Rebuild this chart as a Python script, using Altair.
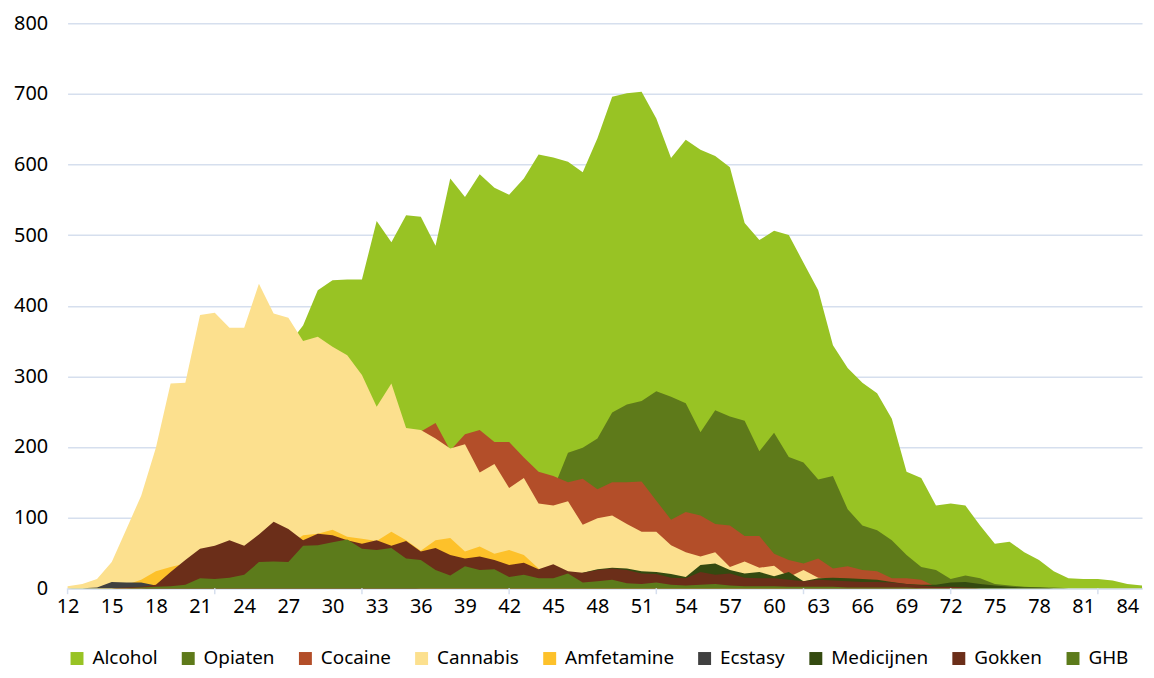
import altair as alt
import pandas as pd

ages = list(range(12, 86))

series = ["Alcohol", "Opiaten", "Cocaine", "Cannabis", "Amfetamine",
          "Ecstasy", "Medicijnen", "Gokken", "GHB"]
colors = ["#98C324", "#5E7A1A", "#B34E29", "#FCE08E", "#FDC12A",
          "#404040", "#344A10", "#6B2E19", "#5C7B1B"]

alcohol = [0, 1, 2, 4, 8, 15, 30, 50, 80, 110, 150, 190, 230, 270, 310, 345,
           372, 422, 436, 437, 437, 520, 490, 528, 526, 485, 580, 554, 586, 567,
           557, 580, 614, 610, 604, 589, 637, 696, 701, 703, 665, 609, 635, 621,
           612, 596, 517, 493, 506, 500, 461, 422, 344, 312, 291, 276, 240, 165,
           156, 117, 120, 117, 89, 63, 66, 51, 40, 24, 14, 13, 13, 11, 6, 4]
opiaten = [0, 0, 0, 0, 1, 2, 3, 5, 8, 12, 15, 20, 25, 30, 35, 40,
           45, 50, 55, 60, 65, 70, 75, 80, 85, 90, 95, 100, 110, 115,
           120, 130, 135, 140, 192, 199, 212, 249, 260, 265, 279, 271, 262, 221,
           252, 243, 237, 194, 220, 186, 178, 154, 159, 112, 89, 82, 68, 47,
           30, 26, 13, 18, 14, 6, 4, 2, 1, 1, 0, 0, 0, 0, 0, 0]
cocaine = [0, 0, 0, 0, 2, 5, 10, 15, 25, 35, 45, 55, 65, 75, 85, 95,
           105, 115, 125, 140, 155, 170, 185, 200, 222, 234, 195, 218, 224, 207,
           207, 185, 165, 159, 150, 155, 140, 150, 150, 151, 124, 97, 108, 103,
           91, 89, 74, 74, 49, 40, 35, 42, 28, 31, 26, 24, 14, 14,
           12, 2, 0, 0, 0, 0, 0, 0, 0, 0, 0, 0, 0, 0, 0, 0]
cannabis = [3, 6, 13, 37, 84, 131, 199, 290, 291, 387, 390, 369, 369, 431, 389, 383,
            350, 356, 342, 330, 302, 257, 290, 227, 224, 212, 198, 204, 164, 176,
            142, 156, 120, 117, 123, 90, 99, 103, 91, 80, 80, 61, 51, 45,
            51, 30, 38, 29, 32, 16, 26, 15, 13, 12, 10, 8, 6, 4,
            3, 2, 1, 1, 0, 0, 0, 0, 0, 0, 0, 0, 0, 0, 0, 0]
amfetamine = [0, 0, 0, 2, 5, 12, 24, 30, 35, 40, 42, 45, 48, 50, 55, 60,
              75, 77, 83, 73, 70, 67, 80, 68, 53, 68, 71, 52, 59, 49,
              54, 47, 28, 15, 10, 8, 6, 5, 4, 3, 3, 2, 2, 1,
              1, 1, 1, 1, 1, 0, 0, 0, 0, 0, 0, 0, 0, 0,
              0, 0, 0, 0, 0, 0, 0, 0, 0, 0, 0, 0, 0, 0, 0, 0]
ecstasy = [0, 0, 1, 9, 8, 8, 4, 2, 2, 1, 1, 1, 1, 1, 1, 1,
           1, 1, 1, 1, 1, 1, 1, 1, 0, 0, 0, 0, 0, 0,
           0, 0, 0, 0, 0, 0, 0, 0, 0, 0, 0, 0, 0, 0,
           0, 0, 0, 0, 0, 0, 0, 0, 0, 0, 0, 0, 0, 0,
           0, 0, 0, 0, 0, 0, 0, 0, 0, 0, 0, 0, 0, 0, 0, 0]
medicijnen = [0, 0, 0, 0, 0, 0, 1, 2, 3, 5, 7, 8, 10, 10, 12, 12,
              14, 15, 15, 16, 16, 17, 17, 18, 18, 18, 19, 20, 20, 20,
              20, 20, 20, 20, 18, 22, 27, 29, 28, 24, 23, 20, 16, 33,
              35, 26, 21, 23, 17, 23, 10, 14, 15, 14, 13, 12, 9, 6,
              5, 5, 8, 9, 6, 4, 2, 1, 1, 0, 0, 0, 0, 0, 0, 0]
gokken = [0, 0, 0, 0, 1, 2, 5, 23, 40, 56, 60, 68, 60, 76, 94, 84,
          68, 77, 75, 68, 63, 68, 60, 67, 52, 57, 47, 42, 45, 40,
          33, 36, 27, 34, 24, 22, 26, 28, 26, 21, 20, 15, 14, 23,
          19, 21, 15, 14, 14, 12, 10, 12, 11, 10, 9, 9, 8, 6,
          4, 2, 2, 1, 0, 0, 0, 0, 0, 0, 0, 0, 0, 0, 0, 0]
ghb = [0, 0, 0, 0, 0, 1, 2, 3, 5, 14, 13, 15, 19, 37, 38, 37,
       60, 61, 65, 69, 56, 54, 57, 42, 40, 26, 18, 31, 26, 27,
       16, 19, 14, 14, 21, 8, 10, 12, 7, 6, 8, 5, 4, 5,
       6, 4, 3, 3, 3, 2, 2, 2, 2, 1, 1, 1, 1, 1,
       0, 0, 0, 0, 0, 0, 0, 0, 0, 0, 0, 0, 0, 0, 0, 0]

x_labels = list(range(12, 85, 3))
x_ticks = list(range(12, 83, 10))

values = [alcohol, opiaten, cocaine, cannabis, amfetamine,
          ecstasy, medicijnen, gokken, ghb]
rows = []
for s, vals in zip(series, values):
    for a, v in zip(ages, vals):
        rows.append({"age": a, "value": v, "series": s})
df = pd.DataFrame(rows)

W, H = 1082, 569
grid_col = "#D6DFEE"
FONT = "Noto Sans"

x_enc = alt.X("age:Q", scale=alt.Scale(domain=[12, 85], nice=False, zero=False),
              axis=alt.Axis(values=x_labels, title=None, grid=False, ticks=False,
                            domain=True, domainColor=grid_col, domainWidth=2,
                            labelFontSize=20, labelFont=FONT, labelColor="#000000",
                            labelPadding=8, labelFlush=False))
y_enc = alt.Y("value:Q", stack=None, scale=alt.Scale(domain=[0, 800], nice=False),
              axis=alt.Axis(values=list(range(0, 801, 100)), title=None, grid=True,
                            gridColor=grid_col, gridWidth=1.5, ticks=False,
                            domain=False, labelFontSize=20, labelFont=FONT,
                            labelColor="#000000", labelPadding=20))
color_enc = alt.Color("series:N",
                      scale=alt.Scale(domain=series, range=colors),
                      legend=alt.Legend(title=None, orient="none", direction="horizontal",
                                        legendX=0, legendY=630, symbolType="square",
                                        symbolSize=170, symbolStrokeWidth=0,
                                        labelFontSize=19, labelFont=FONT,
                                        labelColor="#000000", labelOffset=6,
                                        columnPadding=21, padding=0, labelLimit=300))

layers = []
for s in series:
    layers.append(
        alt.Chart(df).transform_filter(alt.datum.series == s)
        .mark_area(opacity=1, interpolate="linear")
        .encode(x=x_enc, y=y_enc, color=color_enc)
    )

tick_df = pd.DataFrame({"age": x_ticks})
ticks = alt.Chart(tick_df).mark_rule(color=grid_col, strokeWidth=1.5).encode(
    x=x_enc, y=alt.value(H), y2=alt.value(H + 6))

chart = alt.layer(*layers, ticks).properties(
    width=W, height=H,
    background="white",
    autosize=alt.AutoSizeParams(type="none"),
    padding={"left": 60, "top": 13, "right": 4, "bottom": 80},
).configure_view(stroke=None)

chart.save("out.html", embed_options={"renderer": "svg", "actions": False})
